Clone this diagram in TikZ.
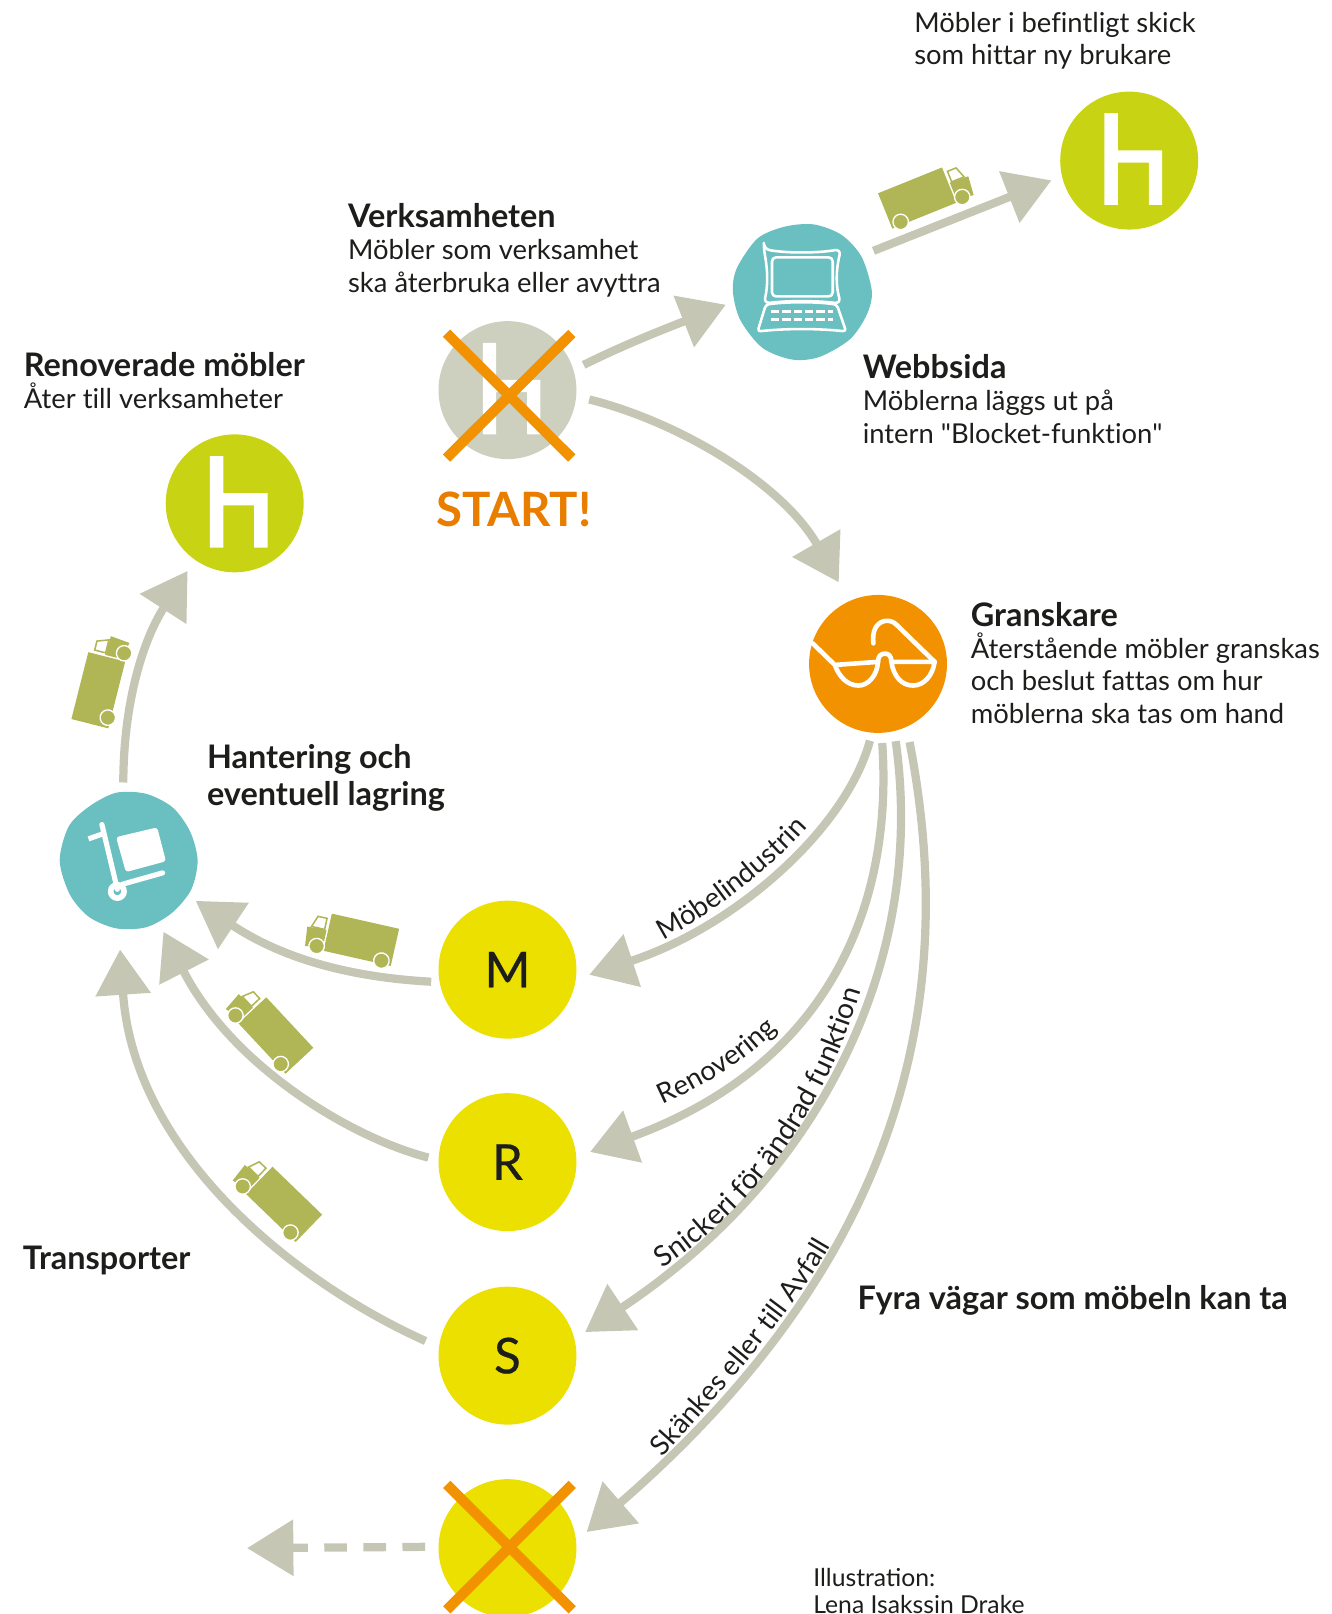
\documentclass[tikz,border=0pt]{standalone}
\usepackage{fontspec}
\setmainfont{Lato}[Ligatures={TeX,NoCommon}]
\newfontfamily\latoplain{Lato}[Ligatures=NoCommon]
\usetikzlibrary{arrows.meta,decorations.text}
\definecolor{ink}{HTML}{1D1D1B}
\definecolor{flowgray}{HTML}{C5C7B4}
\definecolor{startgray}{HTML}{CDD0BE}
\definecolor{lime}{HTML}{C8D413}
\definecolor{tealblob}{HTML}{6ABFC0}
\definecolor{orangeA}{HTML}{F39200}
\definecolor{startorange}{HTML}{E87D00}
\definecolor{yellowA}{HTML}{EBE000}
\definecolor{olive}{HTML}{B0B655}
\tikzset{
  ring/.style={circle,minimum size=134pt,inner sep=0pt,outer sep=8pt},
  letterring/.style={ring,fill=yellowA,text=ink,font=\fontsize{48}{52}\selectfont\addfontfeature{FakeBold=0.5}},
  flow/.style={draw=flowgray,line width=8pt,-{Triangle[width=52pt,length=44pt,fill=flowgray]}},
  body/.style={anchor=north west,inner sep=0pt,align=left,text=ink,font=\fontsize{26.6}{31.5}\selectfont},
  head/.style={anchor=north west,inner sep=0pt,align=left,text=ink,font=\fontsize{31.5}{36.5}\selectfont\bfseries},
  crossmark/.style={draw=orangeA,line width=10pt},
  icon/.style={draw=white,line width=4.5pt,line cap=round,line join=round},
  truck/.pic={
    \begin{scope}[x=1pt,y=1pt]
      \fill[olive] (-33.5,-18.5) rectangle (33.5,18.5);
      \fill[olive] (35,-15) -- (52,-18) -- (54,1) -- (35,2) -- cycle;
      \draw[olive,fill=white,line width=1.5pt] (37,2) -- (37,13) -- (46,13) -- (50,2) -- cycle;
      \draw[white,fill=olive,line width=1.3pt] (41,-15.5) circle (7.5);
      \draw[white,fill=olive,line width=1.3pt] (-23.5,-15.5) circle (7.5);
    \end{scope}
  },
  chairmark/.pic={
    \fill[white] (-24,-46) -- (-11,-46) -- (-11,-10) -- (32,-10) -- (32,43) -- (19,43)
      -- (19,2) -- (-11,2) -- (-11,43) -- (-24,43) -- cycle;
  }
}
\newcommand{\labelfont}{\fontsize{26.8}{30}\selectfont\color{ink}}
\newcommand{\longlabelfont}{\fontsize{27.6}{30}\selectfont\color{ink}}
\begin{document}
\begin{tikzpicture}[x=1pt,y=-1pt]
\useasboundingbox (0,0) rectangle (1293.2,1568);
\clip (0,0) rectangle (1293.2,1568);

% round nodes
\node[ring,fill=lime] (top) at (1097,156) {};
\node[ring] (web) at (779,283) {};
\node[ring,fill=startgray] (start) at (493,379) {};
\node[ring,fill=lime] (ren) at (228,489) {};
\node[ring,fill=orangeA] (gran) at (853,645) {};
\node[ring] (hant) at (125,836) {};
\node[letterring] (m) at (493,942) {\raisebox{-2pt}{M}};
\node[letterring] (r) at (493,1129) {\raisebox{-2pt}{R}};
\node[letterring] (s) at (493,1317) {\raisebox{-2pt}{S}};
\node[ring,fill=yellowA] (x) at (493,1504) {};

% irregular teal blobs
\begin{scope}[shift={(web.center)},x=1pt,y=1pt]
  \fill[tealblob] plot[smooth cycle] coordinates {(0:68)(30:67)(55:67)(80:66)(105:65)(130:67)(160:67)(180:67)(205:66)(235:67)(262:67)(285:66)(315:66)(340:67)};
\end{scope}
\begin{scope}[shift={(hant.center)},x=1pt,y=1pt]
  \fill[tealblob] plot[smooth cycle] coordinates {(0:67)(25:66)(50:67)(75:67)(100:67)(125:65)(150:67)(180:67)(210:66)(235:67)(260:67)(285:67)(310:66)(335:67)};
\end{scope}

% chairs
\pic at (top.center) {chairmark};
\pic at (ren.center) {chairmark};
\pic at (start.center) {chairmark};

% laptop
\begin{scope}[shift={(web.center)}]
  \draw[icon,line width=2.5pt,rounded corners=6pt] (-37,-41) .. controls (-15,-37) and (15,-37) .. (38,-41) .. controls (33,-20) and (33,-5) .. (38,12) .. controls (15,9) and (-15,9) .. (-37,12) .. controls (-33,-5) and (-33,-20) .. (-37,-41) -- cycle;
  \draw[icon,line width=2.5pt,rounded corners=4pt] (-29,-33) rectangle (30,5);
  \draw[icon,line width=2.5pt,rounded corners=3pt] (-35,13) .. controls (-15,10) and (15,10) .. (34,13) -- (43,39) .. controls (15,36) and (-15,36) .. (-43,39) -- cycle;
  \draw[white,line width=3pt,dash pattern=on 8pt off 3pt] (-30,20) -- (30,20);
  \draw[white,line width=3pt,dash pattern=on 8pt off 3pt] (-30,27) -- (30,27);
\end{scope}

% glasses
\begin{scope}[shift={(gran.center)}]
  \draw[icon] (-63.5,-20) -- (-42,1) -- (0,-2) .. controls (-1,12) and (-10,21) .. (-19,21) .. controls (-30,21) and (-38,12) .. (-42,1);
  \draw[icon] (0,-2) .. controls (0,-8) and (3,-10) .. (7,-10) .. controls (10,-10) and (13,-8) .. (13,-2) -- (55,-2) .. controls (53,12) and (44,21) .. (34,21) .. controls (23,21) and (15,12) .. (13,-2);
  \draw[icon] (55,-2) -- (18,-38) .. controls (12,-44) and (3,-43) .. (-2,-36) .. controls (-5,-31) and (-5,-25) .. (-4.5,-20);
\end{scope}

% hand truck
\begin{scope}[shift={(hant.center)}]
  \draw[icon,line width=5pt,line cap=butt] (-39,-21) -- (-25,-26);
  \draw[icon,line width=5pt] (-26,-35) -- (-11,28);
  \draw[icon,line width=5pt] (-6,23) -- (33,12);
  \draw[white,fill=white,line width=2pt,rounded corners=2pt] (-11,-22) -- (27,-31) -- (35,0) -- (-2,10) -- cycle;
  \draw[white,line width=5.5pt] (-11,30) circle (6.5);
\end{scope}

% orange crosses
\draw[crossmark] (433.8,323.6) -- (555.5,445);
\draw[crossmark] (555.5,324) -- (433.8,445);
\draw[crossmark] (434,1442) -- (556,1564);
\draw[crossmark] (556,1442) -- (434,1564);

% connectors
\draw[flow,shorten <=3pt] (start.18.7) .. controls (610,333) and (655,316) .. (web.190.9);
\draw[flow,shorten <=5pt,shorten >=13pt] (start.-6.4) .. controls (660,410) and (760,470) .. (gran.115.7);
\draw[flow,shorten <=5pt,shorten >=3pt] (web.30) -- (top.194);
\draw[flow,shorten >=5pt] (gran.264.7) .. controls (822,805) and (715,900) .. (m.-5.7);
\draw[flow,shorten <=2pt,shorten >=6pt] (gran.273.7) .. controls (868,880) and (805,1035) .. (r.6.3);
\draw[flow,shorten <=2pt,shorten >=4pt] (gran.283.5) .. controls (900,930) and (800,1140) .. (s.16.8);
\draw[flow,shorten <=7pt,shorten >=4pt] (gran.293.7) .. controls (930,960) and (885,1215) .. (x.10.9);
\draw[flow,shorten >=1pt] (m.189.3) .. controls (350,950) and (280,935) .. (hant.-31.6);
\draw[flow,shorten <=2pt,shorten >=2pt] (r.177) .. controls (340,1105) and (225,1035) .. (hant.-64.8);
\draw[flow,shorten <=6pt,shorten >=12pt] (s.171.5) .. controls (285,1245) and (130,1120) .. (hant.263);
\draw[flow,shorten <=1pt,shorten >=5pt] (hant.94.5) .. controls (120,680) and (140,620) .. (ren.235);
\coordinate (discard) at (240,1504);
\draw[flow,-{Triangle[width=53pt,length=45pt,fill=flowgray]},dash pattern=on 22pt off 16pt,shorten <=5pt] (x.179) -- (discard);

% trucks
\pic[rotate=22] at (891,192.4) {truck};
\pic[rotate=75.8] at (95.5,670.6) {truck};
\pic[rotate=-12.7,xscale=-1] at (351,913) {truck};
\pic[rotate=-47,xscale=-1] at (268,1006) {truck};
\pic[rotate=-44,xscale=-1] at (276,1170) {truck};

% labels on the curves
\path[decorate,decoration={text along path,text={|\labelfont|Möbelindustrin}}] (644,913.5) .. controls (680,895) and (745,850) .. (790,798);
\path[decorate,decoration={text along path,text={|\labelfont|Renovering}}] (644,1073) .. controls (680,1057) and (725,1032) .. (757,998);
\path[decorate,decoration={text along path,text={|\longlabelfont|Snickeri för ändrad funktion}}] (644,1232) .. controls (745,1165) and (815,1060) .. (846,925);
\path[decorate,decoration={text along path,text={|\labelfont|Skänkes eller till Avfall}}] (644,1416) .. controls (680,1375) and (765,1285) .. (810,1205);

% texts
\node[body] (t1) at (888,11.5) {Möbler i befintligt skick\\som hittar ny brukare};
\node[head] (t2) at (338,197) {Verksamheten};
\node[body] (t3) at (338,232.5) {Möbler som verksamhet\\ska återbruka eller avyttra};
\node[head] (t4) at (23,342.5) {Renoverade möbler};
\node[body] (t5) at (23,371.5) {Åter till verksamheter};
\node[head] (t6) at (838,344.5) {Webbsida};
\node[body] (t7) at (838,379) {Möblerna läggs ut på\\intern {\latoplain"}Blocket-funktion{\latoplain"}};
\node[head] (t8) at (943,585.5) {Granskare};
\node[body] (t9) at (943,614.5) {Återstående möbler granskas\\och beslut fattas om hur\\möblerna ska tas om hand};
\node[head] (t10) at (201,722.5) {Hantering och\\eventuell lagring};
\node[head] (t11) at (22,1210) {Transporter};
\node[head] (t12) at (833,1248.5) {Fyra vägar som möbeln kan ta};
\node[anchor=center,inner sep=0pt,text=startorange,font=\fontsize{46}{50}\selectfont\bfseries] (t13) at (499,495) {START!};
\node[anchor=north west,inner sep=0pt,align=left,text=ink,font=\fontsize{24}{27}\selectfont] (t14) at (790,1523) {Illus{\addfontfeature{Ligatures=Common}tration}:\\Lena Isakssin Drake};
\end{tikzpicture}
\end{document}
